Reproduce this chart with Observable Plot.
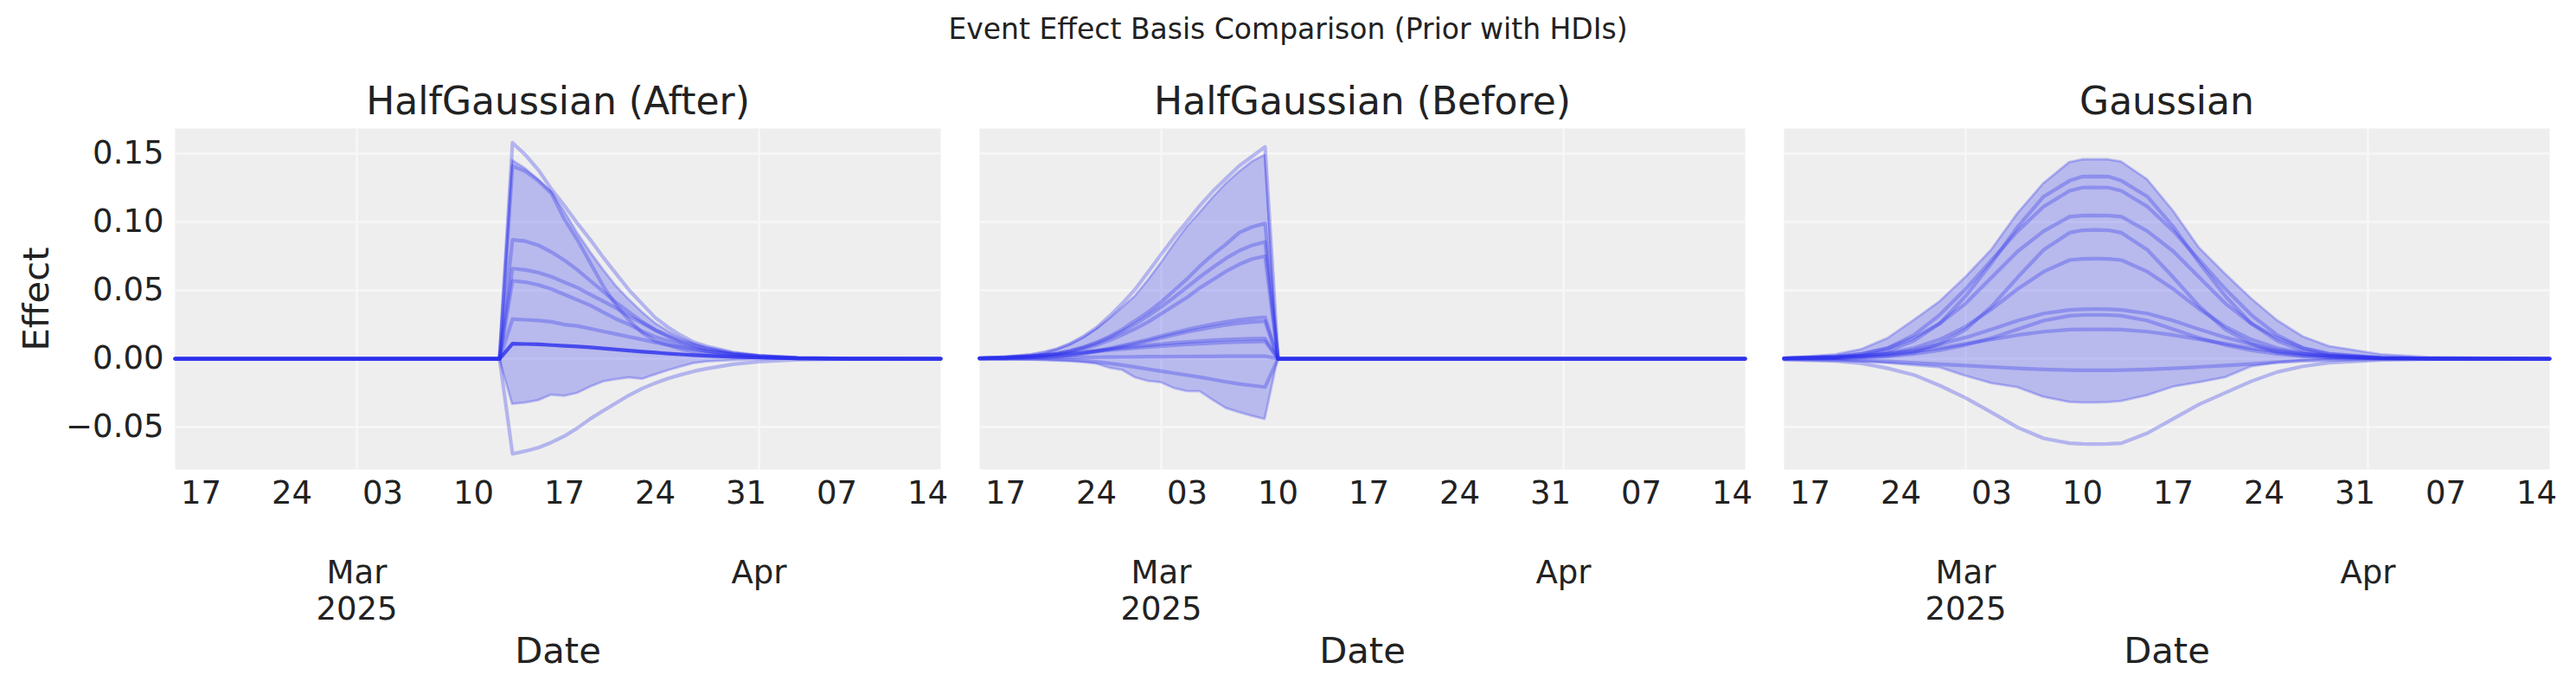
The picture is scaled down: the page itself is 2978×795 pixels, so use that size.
<!DOCTYPE html>
<html>
<head>
<meta charset="utf-8">
<script src="https://cdn.jsdelivr.net/npm/d3@7"></script>
<script src="https://cdn.jsdelivr.net/npm/@observablehq/plot@0.6"></script>
<style>
  body { margin: 0; background: white; }
  #title { height: 66px; display: flex; align-items: center; justify-content: center;
           font-family: "DejaVu Sans"; font-size: 33px; color: #222; }
</style>
</head>
<body>
<div id="title">Event Effect Basis Comparison (Prior with HDIs)</div>
<div id="chart"></div>
<script>
const panels = ["HalfGaussian (After)", "HalfGaussian (Before)", "Gaussian"];
const xLabel = "Date";
const yLabel = "Effect";
const yTicks = [-0.05, 0, 0.05, 0.10, 0.15];
const weekTicks = ["2025-02-17","2025-02-24","2025-03-03","2025-03-10","2025-03-17","2025-03-24","2025-03-31","2025-04-07","2025-04-14"];
const monthTicks = ["2025-03-01","2025-04-01"];

// HalfGaussian (After)
const afterDates = ["2025-02-15","2025-03-12","2025-03-13","2025-03-14","2025-03-15","2025-03-16","2025-03-17","2025-03-18","2025-03-19","2025-03-20","2025-03-21","2025-03-22","2025-03-23","2025-03-24","2025-03-25","2025-03-26","2025-03-27","2025-03-28","2025-03-30","2025-04-01","2025-04-04","2025-04-08","2025-04-15"];
const afterHigh = [0,0,0.145,0.139,0.131,0.122,0.108,0.092,0.078,0.065,0.053,0.043,0.034,0.026,0.020,0.015,0.011,0.008,0.004,0.002,0.0006,0.0001,0];
const afterLow = [0,0,-0.0333,-0.0323,-0.0306,-0.0266,-0.0274,-0.0253,-0.0207,-0.0169,-0.0152,-0.0139,-0.015,-0.0118,-0.0087,-0.0059,-0.0034,-0.0023,-0.0013,-0.0006,-0.0002,0,0];
const afterSamples = [
  [0,0,0.158,0.149,0.138,0.124,0.112,0.099,0.087,0.074,0.062,0.050,0.040,0.030,0.023,0.017,0.012,0.009,0.0046,0.0022,0.0006,0.0001,0],
  [0,0,0.141,0.137,0.130,0.121,0.102,0.087,0.070,0.053,0.039,0.028,0.019,0.013,0.010,0.007,0.005,0.0035,0.002,0.001,0.0003,0,0],
  [0,0,0.087,0.086,0.083,0.078,0.072,0.065,0.057,0.049,0.041,0.034,0.027,0.021,0.016,0.012,0.009,0.006,0.003,0.0015,0.0003,0,0],
  [0,0,0.066,0.065,0.063,0.060,0.056,0.052,0.047,0.042,0.037,0.031,0.026,0.021,0.017,0.013,0.010,0.0075,0.004,0.002,0.0005,0.0001,0],
  [0,0,0.057,0.056,0.054,0.051,0.047,0.043,0.039,0.034,0.029,0.025,0.020,0.016,0.013,0.010,0.0075,0.0055,0.003,0.0015,0.0003,0,0],
  [0,0,0.029,0.0285,0.028,0.027,0.025,0.024,0.022,0.020,0.018,0.016,0.014,0.012,0.010,0.0085,0.007,0.0055,0.0035,0.002,0.0007,0.0001,0],
  [0,0,-0.0696,-0.0675,-0.065,-0.0612,-0.0566,-0.0507,-0.0439,-0.038,-0.0323,-0.0266,-0.0217,-0.0178,-0.0144,-0.0116,-0.0091,-0.0072,-0.004,-0.0022,-0.0007,-0.0001,0]
];
const afterMean = [0,0,0.011,0.0108,0.0105,0.010,0.0095,0.009,0.0083,0.0075,0.0068,0.006,0.0052,0.0045,0.0038,0.0032,0.0026,0.0021,0.0013,0.0008,0.0003,0,0];

// HalfGaussian (Before)
const beforeDates = ["2025-02-15","2025-02-17","2025-02-19","2025-02-20","2025-02-21","2025-02-22","2025-02-23","2025-02-24","2025-02-25","2025-02-26","2025-02-27","2025-02-28","2025-03-01","2025-03-02","2025-03-03","2025-03-04","2025-03-05","2025-03-06","2025-03-07","2025-03-08","2025-03-09","2025-03-10","2025-04-15"];
const beforeHigh = [0.0004,0.0009,0.0027,0.0042,0.0068,0.0104,0.0152,0.0215,0.0289,0.0373,0.0458,0.0574,0.0701,0.0838,0.0965,0.107,0.118,0.128,0.1365,0.144,0.149,0,0];
const beforeLow = [-0.0003,-0.0006,-0.001,-0.0013,-0.0017,-0.0021,-0.0027,-0.0038,-0.0068,-0.0084,-0.0139,-0.0165,-0.0175,-0.0217,-0.0239,-0.0241,-0.0304,-0.0363,-0.0393,-0.042,-0.0443,0,0];
const beforeSamples = [
  [0.0005,0.0012,0.003,0.0047,0.0072,0.011,0.0162,0.0226,0.0311,0.0405,0.051,0.0637,0.0764,0.089,0.1006,0.1123,0.1228,0.132,0.141,0.148,0.155,0,0],
  [0.0002,0.0007,0.0018,0.0028,0.004,0.0057,0.0085,0.012,0.0162,0.0215,0.0279,0.0342,0.0416,0.050,0.0585,0.068,0.0764,0.0838,0.0922,0.0964,0.099,0,0],
  [0.0002,0.0007,0.0017,0.0026,0.0038,0.0058,0.0083,0.0113,0.0153,0.020,0.0255,0.0315,0.038,0.045,0.0525,0.060,0.067,0.0735,0.079,0.083,0.0855,0,0],
  [0.0002,0.0006,0.0016,0.0024,0.0035,0.0051,0.0073,0.010,0.0135,0.0175,0.022,0.027,0.033,0.039,0.045,0.052,0.058,0.064,0.069,0.073,0.075,0,0],
  [0.0001,0.0003,0.0008,0.0013,0.0019,0.0027,0.004,0.0057,0.0076,0.0097,0.0118,0.0141,0.0167,0.019,0.0213,0.0234,0.0253,0.027,0.0285,0.0295,0.0304,0,0],
  [0.0001,0.0003,0.0008,0.0012,0.0018,0.0026,0.0038,0.0053,0.007,0.0088,0.0108,0.013,0.0153,0.0175,0.0196,0.0215,0.0232,0.0247,0.026,0.0268,0.0274,0,0],
  [0.0005,0.001,0.0019,0.0025,0.0032,0.004,0.005,0.006,0.007,0.008,0.009,0.0099,0.0108,0.0116,0.0123,0.0129,0.0135,0.014,0.0143,0.0146,0.0148,0,0],
  [0.0005,0.001,0.0018,0.0024,0.003,0.0037,0.0045,0.0053,0.0062,0.007,0.0078,0.0086,0.0093,0.0099,0.0105,0.011,0.0115,0.0119,0.0122,0.0125,0.0127,0,0],
  [0.0002,0.0004,0.0006,0.0007,0.0008,0.0009,0.001,0.0011,0.0012,0.0013,0.0014,0.0015,0.0015,0.0016,0.0016,0.0017,0.0017,0.0018,0.0018,0.0019,0.0019,0,0],
  [-0.0001,-0.0002,-0.0003,-0.0003,-0.0005,-0.0008,-0.0015,-0.0023,-0.0034,-0.0046,-0.0061,-0.0076,-0.0091,-0.0106,-0.012,-0.0135,-0.0152,-0.0169,-0.0184,-0.0196,-0.0207,0,0]
];

// Gaussian
const gaussDates = ["2025-02-15","2025-02-19","2025-02-21","2025-02-23","2025-02-25","2025-02-27","2025-03-01","2025-03-03","2025-03-05","2025-03-07","2025-03-09","2025-03-10","2025-03-11","2025-03-12","2025-03-13","2025-03-15","2025-03-17","2025-03-19","2025-03-21","2025-03-23","2025-03-25","2025-03-27","2025-03-29","2025-04-02","2025-04-06","2025-04-15"];
const gaussHigh = [0.0002,0.003,0.0068,0.0148,0.0279,0.0416,0.0595,0.0796,0.106,0.128,0.1435,0.1456,0.1456,0.1456,0.144,0.131,0.108,0.081,0.062,0.044,0.028,0.016,0.009,0.003,0.0008,0];
const gaussLow = [-0.0005,-0.0013,-0.0021,-0.0034,-0.0049,-0.0065,-0.0127,-0.0181,-0.0211,-0.0281,-0.0319,-0.0323,-0.0323,-0.032,-0.0312,-0.027,-0.0207,-0.0175,-0.0139,-0.0059,-0.003,-0.0017,-0.001,-0.0004,-0.0001,0];
const gaussSamples = [
  [0.0002,0.001,0.0025,0.0057,0.0131,0.0258,0.0459,0.0701,0.0965,0.1186,0.1302,0.1332,0.1334,0.1332,0.1302,0.1186,0.0965,0.0701,0.0459,0.0258,0.0131,0.0057,0.0025,0.0004,0.0001,0],
  [0.0003,0.0014,0.0035,0.0078,0.0173,0.0321,0.0511,0.0722,0.0933,0.1113,0.1228,0.1252,0.1253,0.1252,0.1228,0.1113,0.0933,0.0722,0.0511,0.0321,0.0173,0.0078,0.0035,0.0006,0.0001,0],
  [0.0003,0.0017,0.0038,0.0078,0.0152,0.0258,0.0405,0.0595,0.0785,0.0933,0.1039,0.1047,0.1049,0.1047,0.1039,0.0933,0.0785,0.0595,0.0405,0.0258,0.0152,0.0078,0.0038,0.0008,0.0001,0],
  [0,0.0003,0.0008,0.0021,0.0046,0.011,0.0215,0.0384,0.0595,0.0796,0.0922,0.094,0.0943,0.094,0.0922,0.0796,0.0595,0.0384,0.0215,0.011,0.0046,0.0021,0.0008,0.0001,0,0],
  [0.0002,0.001,0.002,0.0042,0.0078,0.0141,0.0236,0.0363,0.051,0.0637,0.0722,0.0731,0.0732,0.0731,0.0722,0.0637,0.051,0.0363,0.0236,0.0141,0.0078,0.0042,0.002,0.0004,0.0001,0],
  [0.0002,0.0009,0.0018,0.0034,0.0063,0.0106,0.0156,0.0215,0.0279,0.0331,0.0357,0.0362,0.0363,0.0362,0.0357,0.0331,0.0279,0.0215,0.0156,0.0106,0.0063,0.0034,0.0018,0.0004,0.0001,0],
  [0.0001,0.0004,0.0009,0.0019,0.0036,0.0063,0.0101,0.0152,0.0215,0.0279,0.0314,0.032,0.0321,0.032,0.0314,0.0279,0.0215,0.0152,0.0101,0.0063,0.0036,0.0019,0.0009,0.0002,0,0],
  [0.0004,0.0012,0.002,0.0034,0.0053,0.0078,0.011,0.0141,0.0173,0.0198,0.0213,0.0215,0.0215,0.0215,0.0213,0.0198,0.0173,0.0141,0.011,0.0078,0.0053,0.0034,0.002,0.0007,0.0002,0],
  [-0.0004,-0.001,-0.0014,-0.002,-0.003,-0.004,-0.005,-0.006,-0.007,-0.0078,-0.0083,-0.0085,-0.0085,-0.0085,-0.0083,-0.0078,-0.007,-0.006,-0.005,-0.0038,-0.0025,-0.0015,-0.001,-0.0004,-0.0001,0],
  [-0.0005,-0.0016,-0.0034,-0.007,-0.0118,-0.0196,-0.0287,-0.0393,-0.0502,-0.0582,-0.0618,-0.0623,-0.0624,-0.0623,-0.0618,-0.0544,-0.0439,-0.0333,-0.0249,-0.0165,-0.0097,-0.0055,-0.003,-0.0009,-0.0002,0]
];

const blue = "#2a2eec";

function lineRows(panel, dates, list, tag) {
  return list.flatMap((values, k) =>
    values.map((v, i) => ({panel, date: new Date(dates[i]), value: v, id: panel + tag + k})));
}
function bandRows(panel, dates, low, high) {
  return dates.map((d, i) => ({panel, date: new Date(d), low: low[i], high: high[i]}));
}

const bands = [
  ...bandRows(panels[0], afterDates, afterLow, afterHigh),
  ...bandRows(panels[1], beforeDates, beforeLow, beforeHigh),
  ...bandRows(panels[2], gaussDates, gaussLow, gaussHigh)
];
const samples = [
  ...lineRows(panels[0], afterDates, afterSamples, "s"),
  ...lineRows(panels[1], beforeDates, beforeSamples, "s"),
  ...lineRows(panels[2], gaussDates, gaussSamples, "s")
];
const means = lineRows(panels[0], afterDates, [afterMean], "m");

const chart = Plot.plot({
  width: 2978,
  height: 729,
  marginLeft: 202,
  marginRight: 30,
  marginTop: 82,
  marginBottom: 253,
  style: {fontFamily: "DejaVu Sans", color: "#222", background: "white", overflow: "visible"},
  fx: {domain: panels, paddingInner: 0.048, paddingOuter: 0, axis: null},
  x: {type: "utc", domain: [new Date("2025-02-15"), new Date("2025-04-15")]},
  y: {domain: [-0.081, 0.1684]},
  marks: [
    Plot.frame({fill: "#eeeeee", stroke: null}),
    Plot.gridY(yTicks, {stroke: "#f7f7f7", strokeOpacity: 1, strokeWidth: 2.5}),
    Plot.gridX(monthTicks.map(d => new Date(d)), {stroke: "#f7f7f7", strokeOpacity: 1, strokeWidth: 2.5}),
    Plot.areaY(bands, {x: "date", y1: "low", y2: "high", fx: "panel",
      fill: blue, fillOpacity: 0.27, stroke: blue, strokeOpacity: 0.27, strokeWidth: 2.8}),
    Plot.line(samples, {x: "date", y: "value", z: "id", fx: "panel",
      stroke: blue, strokeOpacity: 0.3, strokeWidth: 4.2}),
    Plot.line(means, {x: "date", y: "value", z: "id", fx: "panel",
      stroke: blue, strokeOpacity: 0.8, strokeWidth: 4.2}),
    Plot.axisY(yTicks, {tickSize: 0, tickPadding: 13, fontSize: 37, label: null,
      tickFormat: d3.format(".2f")}),
    Plot.axisX(weekTicks.map(d => new Date(d)), {tickSize: 0, tickPadding: 13, fontSize: 37, label: null,
      tickFormat: d3.utcFormat("%d")}),
    Plot.axisX(monthTicks.map(d => new Date(d)), {tickSize: 0, tickPadding: 101, fontSize: 37, label: null,
      lineHeight: 1.15, tickFormat: (d, i) => d3.utcFormat(i === 0 ? "%b\n%Y" : "%b")(d)}),
    Plot.text(panels, {fx: d => d, text: d => d, frameAnchor: "top", dy: -31,
      lineAnchor: "middle", fontSize: 44}),
    Plot.text(panels, {fx: d => d, text: () => xLabel, frameAnchor: "bottom", dy: 210,
      lineAnchor: "middle", textAnchor: "middle", fontSize: 41.7}),
    Plot.text([panels[0]], {fx: d => d, text: () => yLabel, frameAnchor: "left", dx: -160,
      rotate: -90, textAnchor: "middle", lineAnchor: "middle", fontSize: 41.7})
  ]
});

d3.select("#chart").append(() => chart);
</script>
</body>
</html>
